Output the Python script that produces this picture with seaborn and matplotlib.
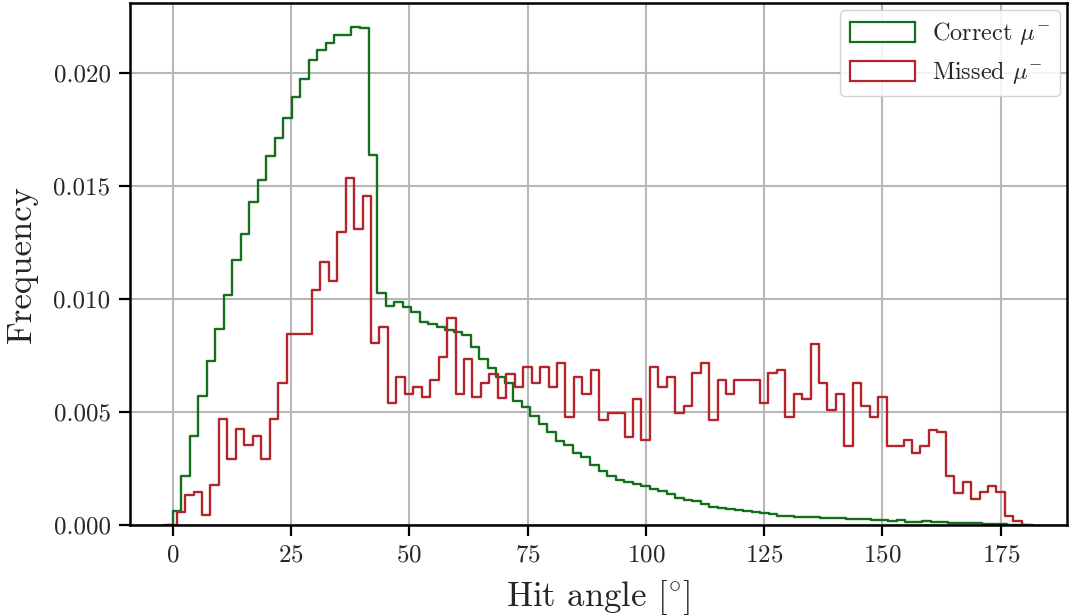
import numpy as np
import pandas as pd
import matplotlib
matplotlib.use("Agg")
import matplotlib.pyplot as plt
from matplotlib.patches import Patch
from matplotlib.ticker import FormatStrFormatter
import seaborn as sns

# Normalised hit-angle distributions (100 bins each)
correct_range = (0.0, 180.0)
missed_range = (0.85, 179.45)

correct_freq = [
    0.00062, 0.00218, 0.00392, 0.00572, 0.00726, 0.00869, 0.01020, 0.01172, 0.01290, 0.01428,
    0.01529, 0.01633, 0.01715, 0.01800, 0.01893, 0.01973, 0.02056, 0.02104, 0.02134, 0.02168,
    0.02168, 0.02205, 0.02198, 0.01636, 0.01027, 0.00969, 0.00986, 0.00965, 0.00943, 0.00900,
    0.00888, 0.00877, 0.00865, 0.00856, 0.00841, 0.00787, 0.00734, 0.00694, 0.00657, 0.00628,
    0.00547, 0.00522, 0.00483, 0.00448, 0.00410, 0.00370, 0.00355, 0.00319, 0.00302, 0.00267,
    0.00238, 0.00219, 0.00198, 0.00191, 0.00183, 0.00171, 0.00160, 0.00149, 0.00139, 0.00120,
    0.00109, 0.00105, 0.00095, 0.00079, 0.00076, 0.00072, 0.00068, 0.00061, 0.00057, 0.00051,
    0.00050, 0.00042, 0.00038, 0.00036, 0.00036, 0.00036, 0.00031, 0.00033, 0.00033, 0.00028,
    0.00027, 0.00025, 0.00022, 0.00020, 0.00019, 0.00020, 0.00015, 0.00014, 0.00017, 0.00015,
    0.00012, 0.00010, 0.00009, 0.00008, 0.00007, 0.00006, 0.00004, 0.00003, 0.00001, 0.00000,
]

missed_freq = [
    0.00059, 0.00134, 0.00147, 0.00043, 0.00177, 0.00468, 0.00293, 0.00423, 0.00352, 0.00392,
    0.00293, 0.00468, 0.00627, 0.00845, 0.00845, 0.00845, 0.01038, 0.01166, 0.01080, 0.01296,
    0.01534, 0.01308, 0.01457, 0.00804, 0.00877, 0.00540, 0.00654, 0.00581, 0.00610, 0.00566,
    0.00642, 0.00743, 0.00916, 0.00581, 0.00733, 0.00566, 0.00627, 0.00670, 0.00560, 0.00669,
    0.00610, 0.00700, 0.00627, 0.00700, 0.00610, 0.00716, 0.00480, 0.00656, 0.00581, 0.00687,
    0.00466, 0.00495, 0.00495, 0.00389, 0.00557, 0.00375, 0.00701, 0.00610, 0.00655, 0.00495,
    0.00526, 0.00675, 0.00716, 0.00466, 0.00642, 0.00581, 0.00642, 0.00642, 0.00642, 0.00540,
    0.00673, 0.00687, 0.00480, 0.00581, 0.00557, 0.00803, 0.00628, 0.00510, 0.00581, 0.00348,
    0.00628, 0.00525, 0.00480, 0.00566, 0.00348, 0.00348, 0.00377, 0.00319, 0.00351, 0.00420,
    0.00410, 0.00216, 0.00142, 0.00189, 0.00113, 0.00145, 0.00174, 0.00145, 0.00038, 0.00018,
]

series_labels = [r"Correct $\mu^{-}$", r"Missed $\mu^{-}$"]
series_colors = ["#15701d", "#b5232b"]

x_ticks = [0, 25, 50, 75, 100, 125, 150, 175]
y_ticks = [0.0, 0.005, 0.010, 0.015, 0.020]

sns.set_style("ticks")
plt.rcParams.update({
    "font.family": ["cmr10", "DejaVu Serif"],
    "mathtext.fontset": "cm",
    "axes.unicode_minus": False,
    "axes.formatter.use_mathtext": True,
})

fig, ax = plt.subplots(figsize=(10.71, 6.16), dpi=100)
fig.subplots_adjust(left=0.1214, right=0.9963, top=0.995, bottom=0.1477)


def step_hist(values, lo, hi, color):
    values = np.asarray(values, dtype=float)
    n = len(values)
    width = (hi - lo) / n
    # one empty bin on each side so the outline starts and ends at zero
    centers = lo + width * (np.arange(-1, n + 1) + 0.5)
    weights = np.concatenate([[0.0], values, [0.0]])
    df = pd.DataFrame({"angle": centers, "w": weights})
    sns.histplot(data=df, x="angle", weights="w", bins=n + 2,
                 binrange=(lo - width, hi + width), stat="count",
                 element="step", fill=False, color=color, linewidth=1.7, ax=ax)


step_hist(correct_freq, *correct_range, series_colors[0])
step_hist(missed_freq, *missed_range, series_colors[1])

ax.set_xlim(-9, 189)
ax.set_ylim(0, 0.0231)
ax.set_xticks(x_ticks)
ax.set_yticks(y_ticks)
ax.yaxis.set_major_formatter(FormatStrFormatter("%.3f"))

ax.grid(True, color="#b7b7b7", linewidth=1.5)
ax.set_axisbelow(True)
for side in ["top", "right", "bottom", "left"]:
    ax.spines[side].set_visible(True)
    ax.spines[side].set_color("black")
    ax.spines[side].set_linewidth(1.8)
ax.tick_params(axis="both", which="major", direction="out", length=8, width=1.6,
               labelsize=18, color="black", pad=6)

ax.set_xlabel(r"Hit angle [$^{\circ}$]", fontsize=25, labelpad=8)
ax.set_ylabel("Frequency", fontsize=25, labelpad=11)

handles = [Patch(facecolor="white", edgecolor=c, linewidth=1.6) for c in series_colors]
ax.legend(handles, series_labels, loc="upper right", fontsize=17.5,
          handlelength=2.7, handleheight=0.9, handletextpad=0.7,
          frameon=True, framealpha=0.85, edgecolor="#cccccc", fancybox=True,
          borderaxespad=0.3)

fig.savefig("out.png", dpi=100)
